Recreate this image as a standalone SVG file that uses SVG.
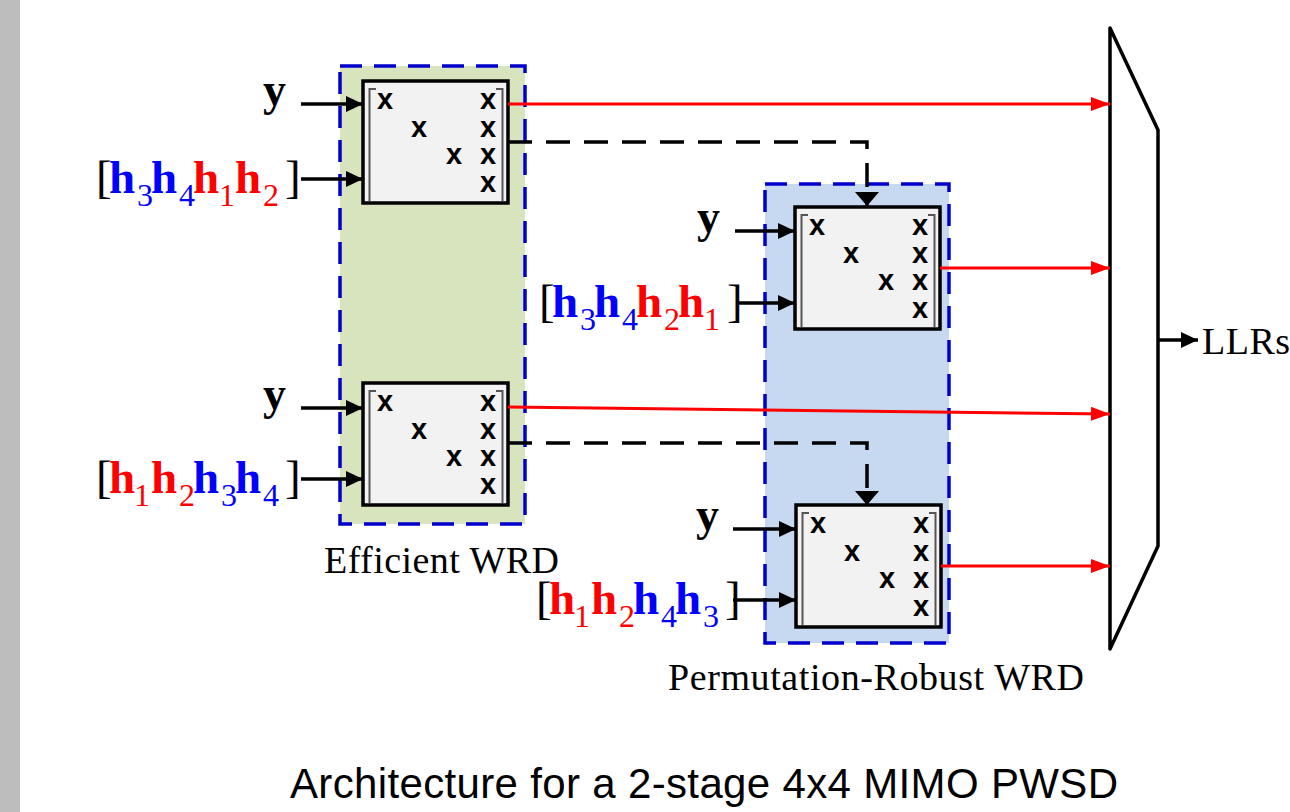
<svg xmlns="http://www.w3.org/2000/svg" xmlns:xlink="http://www.w3.org/1999/xlink" width="1290" height="812" viewBox="0 0 1290 812">
<style>
.lbl{font-family:"Liberation Serif","Times New Roman",serif;font-size:47px;fill:#000;}
.hb{font-weight:bold;}
.sb{font-size:32px;}
.blue{fill:#0000ff;}
.red{fill:#ff0000;}
.ylab{font-family:"Liberation Serif","Times New Roman",serif;font-size:46px;font-weight:bold;fill:#000;}
.mx{font-family:"Liberation Sans",Arial,sans-serif;font-size:29px;font-weight:bold;fill:#000;text-anchor:middle;}
.cap{font-family:"Liberation Serif","Times New Roman",serif;font-size:38px;fill:#000;}
.in{fill:none;stroke:#000;stroke-width:3.5;marker-end:url(#ah);}
.out{fill:none;stroke:#ff0000;stroke-width:3;marker-end:url(#ahr);}
.dash{fill:none;stroke:#000;stroke-width:3.5;stroke-dasharray:24 14;marker-end:url(#ahd);}
.grp{stroke:#0000cc;stroke-width:3.5;stroke-dasharray:22 12;}
</style>
<defs>
<marker id="ah" markerUnits="userSpaceOnUse" markerWidth="17" markerHeight="16" refX="17" refY="8" orient="auto"><path d="M0,0 L17,8 L0,16 z" fill="#000"/></marker>
<marker id="ahr" markerUnits="userSpaceOnUse" markerWidth="19" markerHeight="14" refX="19" refY="7" orient="auto"><path d="M0,0 L19,7 L0,14 z" fill="#ff0000"/></marker>
<marker id="ahd" markerUnits="userSpaceOnUse" markerWidth="14" markerHeight="24" refX="14" refY="12" orient="auto"><path d="M0,0 L14,12 L0,24 z" fill="#000"/></marker>
<g id="wrd">
<rect x="0" y="0" width="145" height="122" fill="#f2f2f2" stroke="#000" stroke-width="3.5"/>
<path d="M13,8 H6.5 V120 M133,8 H139.5 V120" fill="none" stroke="#555" stroke-width="2"/>
<text class="mx" x="22" y="28">x</text>
<text class="mx" x="125" y="28">x</text>
<text class="mx" x="56" y="56">x</text>
<text class="mx" x="125" y="56">x</text>
<text class="mx" x="91" y="83">x</text>
<text class="mx" x="125" y="83">x</text>
<text class="mx" x="125" y="111">x</text>
</g>
</defs>
<rect x="0" y="0" width="1290" height="812" fill="#ffffff"/>
<rect x="0" y="0" width="20" height="812" fill="#bdbdbd"/>

<g id="efficient-wrd">
<rect class="grp" x="340" y="66" width="185" height="458" fill="#d7e4bd"/>
<text class="cap" x="324" y="573" textLength="235">Efficient WRD</text>
</g>
<g id="permutation-robust-wrd">
<rect class="grp" x="765" y="184" width="184" height="459" fill="#c6d9f0"/>
<text class="cap" x="668" y="690" textLength="416">Permutation-Robust WRD</text>
</g>

<g id="wrd1"><use xlink:href="#wrd" x="363" y="81"/></g>
<g id="wrd2"><use xlink:href="#wrd" x="795" y="207"/></g>
<g id="wrd3"><use xlink:href="#wrd" x="363" y="383"/></g>
<g id="wrd4"><use xlink:href="#wrd" x="796" y="505"/></g>

<g id="mux">
<path d="M1110,28 L1158,130 L1158,546 L1110,649 Z" fill="#ffffff" stroke="#000" stroke-width="3.5" stroke-linejoin="round"/>
<text class="cap" x="1202" y="354" textLength="88">LLRs</text>
</g>

<g id="labels">
<text class="ylab" x="263" y="105">y</text>
<text class="ylab" x="263" y="409">y</text>
<text class="ylab" x="697" y="232">y</text>
<text class="ylab" x="696" y="530">y</text>

<text class="lbl"><tspan x="96" y="193">[</tspan><tspan class="hb blue" x="109" y="193">h</tspan><tspan class="sb blue" x="137" y="206">3</tspan><tspan class="hb blue" x="151" y="193">h</tspan><tspan class="sb blue" x="179" y="206">4</tspan><tspan class="hb red" x="193" y="193">h</tspan><tspan class="sb red" x="219" y="206">1</tspan><tspan class="hb red" x="235" y="193">h</tspan><tspan class="sb red" x="263" y="206">2</tspan><tspan x="285" y="193">]</tspan></text>

<text class="lbl"><tspan x="539" y="317">[</tspan><tspan class="hb blue" x="552" y="317">h</tspan><tspan class="sb blue" x="580" y="330">3</tspan><tspan class="hb blue" x="594" y="317">h</tspan><tspan class="sb blue" x="622" y="330">4</tspan><tspan class="hb red" x="636" y="317">h</tspan><tspan class="sb red" x="664" y="330">2</tspan><tspan class="hb red" x="678" y="317">h</tspan><tspan class="sb red" x="704" y="330">1</tspan><tspan x="727" y="317">]</tspan></text>

<text class="lbl"><tspan x="96" y="493">[</tspan><tspan class="hb red" x="109" y="493">h</tspan><tspan class="sb red" x="134" y="506">1</tspan><tspan class="hb red" x="151" y="493">h</tspan><tspan class="sb red" x="179" y="506">2</tspan><tspan class="hb blue" x="193" y="493">h</tspan><tspan class="sb blue" x="221" y="506">3</tspan><tspan class="hb blue" x="235" y="493">h</tspan><tspan class="sb blue" x="263" y="506">4</tspan><tspan x="285" y="493">]</tspan></text>

<text class="lbl"><tspan x="536" y="614">[</tspan><tspan class="hb red" x="549" y="614">h</tspan><tspan class="sb red" x="574" y="627">1</tspan><tspan class="hb red" x="591" y="614">h</tspan><tspan class="sb red" x="619" y="627">2</tspan><tspan class="hb blue" x="633" y="614">h</tspan><tspan class="sb blue" x="661" y="627">4</tspan><tspan class="hb blue" x="675" y="614">h</tspan><tspan class="sb blue" x="703" y="627">3</tspan><tspan x="725" y="614">]</tspan></text>

<text x="290" y="798" font-family="Liberation Sans, Arial, sans-serif" font-size="42" textLength="828" fill="#000">Architecture for a 2-stage 4x4 MIMO PWSD</text>
</g>

<g id="connectors">
<path class="in" d="M301,104 H363"/>
<path class="in" d="M301,179 H363"/>
<path class="in" d="M301,408 H363"/>
<path class="in" d="M301,479 H363"/>
<path class="in" d="M735,231 H795"/>
<path class="in" d="M737,303 H795"/>
<path class="in" d="M733,529 H796"/>
<path class="in" d="M733,600 H796"/>
<path class="out" d="M508,104 H1110"/>
<path class="out" d="M940,268 H1110"/>
<path class="out" d="M508,407 L1110,414"/>
<path class="out" d="M941,566 H1110"/>
<path class="dash" d="M508,142 H867 V206"/>
<path class="dash" d="M508,443 H867 V505"/>
<path class="in" d="M1158,340 H1198"/>
</g>
</svg>
